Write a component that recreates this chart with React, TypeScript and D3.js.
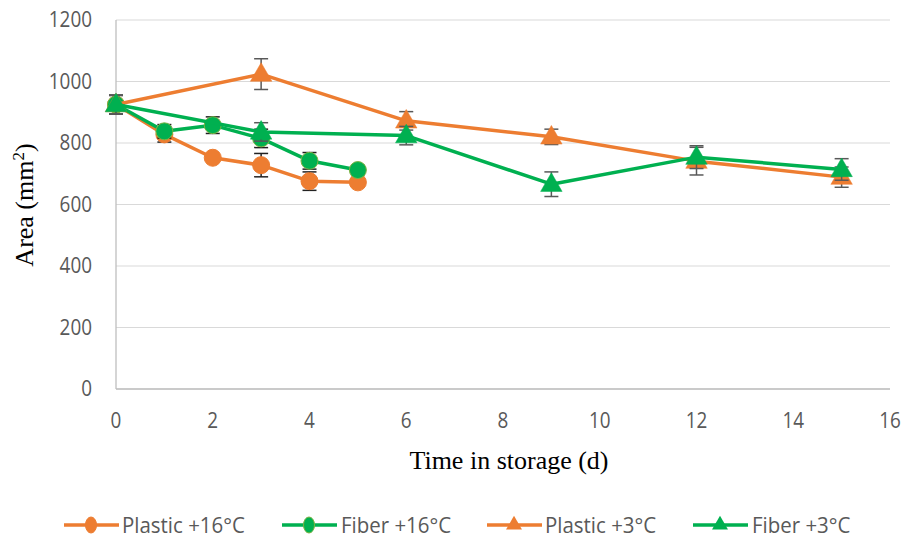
import * as d3 from "d3";

const days16 = [0, 1, 2, 3, 4, 5];
const days3 = [0, 3, 6, 9, 12, 15];

const plastic16 = [925, 828, 752, 728, 676, 672];
const plastic16Err = [30, 25, 8, 38, 30, 10];
const fiber16 = [925, 838, 858, 815, 742, 712];
const fiber16Err = [30, 22, 27, 30, 27, 15];
const plastic3 = [925, 1024, 872, 820, 741, 689];
const plastic3Err = [30, 50, 30, 25, 45, 33];
const fiber3 = [925, 836, 824, 666, 754, 714];
const fiber3Err = [30, 30, 30, 40, 37, 35];

const xTicks = [0, 2, 4, 6, 8, 10, 12, 14, 16];
const yTicks = [0, 200, 400, 600, 800, 1000, 1200];

const ORANGE = "#ED7D31";
const GREEN = "#00B050";

type Series = {
  name: string;
  x: number[];
  y: number[];
  err: number[];
  color: string;
  marker: "circle" | "triangle";
  errColor: string;
};

const series: Series[] = [
  { name: "Plastic +16°C", x: days16, y: plastic16, err: plastic16Err, color: ORANGE, marker: "circle", errColor: "#222" },
  { name: "Fiber +16°C", x: days16, y: fiber16, err: fiber16Err, color: GREEN, marker: "circle", errColor: "#222" },
  { name: "Plastic +3°C", x: days3, y: plastic3, err: plastic3Err, color: ORANGE, marker: "triangle", errColor: "#595959" },
  { name: "Fiber +3°C", x: days3, y: fiber3, err: fiber3Err, color: GREEN, marker: "triangle", errColor: "#595959" },
];

const W = 906;
const H = 543;
const left = 116;
const right = 890;
const top = 20;
const bottom = 389;

const tickFont = "'Open Sans', sans-serif";
const titleFont = "'Liberation Serif', 'Times New Roman', serif";

// Calibri-ish: a slightly condensed Open Sans
function NarrowText({ x, y, anchor, size, sx, children }: { x: number; y: number; anchor?: string; size: number; sx: number; children: any }) {
  return (
    <text transform={`translate(${x},${y}) scale(${sx},1)`} dy="0.35em" textAnchor={anchor || "start"} fontFamily={tickFont} fontSize={size} fill="#595959">
      {children}
    </text>
  );
}

function Marker({ kind, cx, cy, color }: { kind: string; cx: number; cy: number; color: string }) {
  if (kind === "circle") {
    return <circle cx={cx} cy={cy} r={8.5} fill={color} stroke={color === GREEN ? "#7cb342" : color} strokeWidth={1} />;
  }
  const tri = d3.symbol(d3.symbolTriangle, 200)();
  return <path d={tri || ""} transform={`translate(${cx},${cy + 1})`} fill={color} stroke={color} strokeWidth={0.5} />;
}

export default function App() {
  const x = d3.scaleLinear().domain([0, 16]).range([left, right]);
  const y = d3.scaleLinear().domain([0, 1200]).range([bottom, top]);
  const line = d3
    .line<[number, number]>()
    .x((d) => x(d[0]))
    .y((d) => y(d[1]));

  // legend line start and text start, in px
  const legendItems = [
    { lx: 64, tx: 122 },
    { lx: 282, tx: 341 },
    { lx: 487, tx: 545 },
    { lx: 693, tx: 752 },
  ];
  const legendY = 525;

  return (
    <svg width={W} height={H} style={{ position: "absolute", left: 0, top: 0, background: "#fff" }}>
      {yTicks.map((t) => (
        <line key={t} x1={left} x2={right} y1={y(t)} y2={y(t)} stroke="#d9d9d9" strokeWidth={1} />
      ))}
      <line x1={left} x2={left} y1={top} y2={bottom} stroke="#bfbfbf" strokeWidth={1.3} />
      <line x1={left} x2={right} y1={bottom} y2={bottom} stroke="#bfbfbf" strokeWidth={1.3} />

      {yTicks.map((t) => (
        <NarrowText key={t} x={92} y={y(t)} anchor="end" size={21} sx={0.9}>
          {t}
        </NarrowText>
      ))}
      {xTicks.map((t) => (
        <NarrowText key={t} x={x(t)} y={421} anchor="middle" size={21} sx={0.9}>
          {t}
        </NarrowText>
      ))}

      <text x={(left + right) / 2 + 6} y={460} dy="0.35em" textAnchor="middle" fontFamily={titleFont} fontSize={26} fill="#000">
        Time in storage (d)
      </text>
      <text transform={`translate(24,205) rotate(-90)`} textAnchor="middle" dy="0.35em" fontFamily={titleFont} fontSize={26} fill="#000">
        Area (mm<tspan dy="-9" fontSize={17}>2</tspan>
        <tspan dy="9">)</tspan>
      </text>

      {series.map((s) => (
        <g key={s.name}>
          {s.x.map((d, i) => {
            const cx = x(d);
            return (
              <g key={i} stroke={s.errColor} strokeWidth={1.5}>
                <line x1={cx} x2={cx} y1={y(s.y[i] - s.err[i])} y2={y(s.y[i] + s.err[i])} />
                <line x1={cx - 7} x2={cx + 7} y1={y(s.y[i] - s.err[i])} y2={y(s.y[i] - s.err[i])} />
                <line x1={cx - 7} x2={cx + 7} y1={y(s.y[i] + s.err[i])} y2={y(s.y[i] + s.err[i])} />
              </g>
            );
          })}
          <path d={line(s.x.map((d, i) => [d, s.y[i]] as [number, number])) || ""} fill="none" stroke={s.color} strokeWidth={3.5} strokeLinejoin="round" />
          {s.x.map((d, i) => (
            <Marker key={i} kind={s.marker} cx={x(d)} cy={y(s.y[i])} color={s.color} />
          ))}
        </g>
      ))}

      {series.map((s, i) => {
        const it = legendItems[i];
        const mx = it.lx + 27;
        return (
          <g key={s.name}>
            <line x1={it.lx} x2={it.lx + 55} y1={legendY} y2={legendY} stroke={s.color} strokeWidth={3.5} />
            {s.marker === "circle" ? (
              <ellipse cx={mx} cy={legendY} rx={5.5} ry={8} fill={s.color} stroke={s.color === GREEN ? "#7cb342" : s.color} />
            ) : (
              <path d={d3.symbol(d3.symbolTriangle, 110)() || ""} transform={`translate(${mx},${legendY})`} fill={s.color} />
            )}
            <NarrowText x={it.tx} y={legendY} size={22} sx={0.93}>
              {s.name}
            </NarrowText>
          </g>
        );
      })}
    </svg>
  );
}
